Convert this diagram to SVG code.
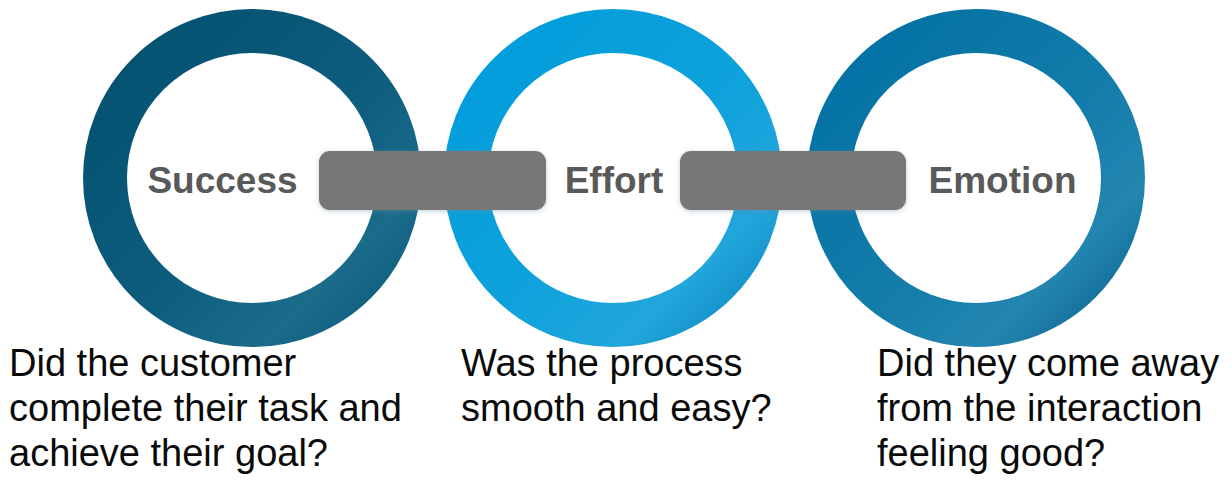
<svg xmlns="http://www.w3.org/2000/svg" width="1232" height="483" viewBox="0 0 1232 483">
  <defs>
    <linearGradient id="g1" x1="0" y1="0" x2="1" y2="1">
      <stop offset="0" stop-color="#03506f"/>
      <stop offset="0.55" stop-color="#0d5d7e"/>
      <stop offset="0.8" stop-color="#1b6b8b"/>
      <stop offset="1" stop-color="#0c5a7c"/>
    </linearGradient>
    <linearGradient id="g2" x1="0" y1="0" x2="1" y2="1">
      <stop offset="0" stop-color="#009cdb"/>
      <stop offset="0.55" stop-color="#0fa2dc"/>
      <stop offset="0.8" stop-color="#22a6dc"/>
      <stop offset="1" stop-color="#0e86c0"/>
    </linearGradient>
    <linearGradient id="g3" x1="0" y1="0" x2="1" y2="1">
      <stop offset="0" stop-color="#0070a3"/>
      <stop offset="0.55" stop-color="#137caa"/>
      <stop offset="0.8" stop-color="#2386b0"/>
      <stop offset="1" stop-color="#0a628d"/>
    </linearGradient>
    <filter id="sh" x="-10%" y="-30%" width="120%" height="160%">
      <feGaussianBlur in="SourceAlpha" stdDeviation="2.5"/>
      <feOffset dx="0" dy="1" result="b"/>
      <feFlood flood-color="#6a8fa0" flood-opacity="0.45"/>
      <feComposite in2="b" operator="in"/>
      <feMerge><feMergeNode/><feMergeNode in="SourceGraphic"/></feMerge>
    </filter>
  </defs>
  <style>
    .ring { fill: none; stroke-width: 44; }
    .lbl { font-family: "Liberation Sans", Arial, sans-serif; font-weight: bold; font-size: 37px; fill: #595959; text-anchor: middle; }
    .q { font-family: "Liberation Sans", Arial, sans-serif; font-size: 38px; fill: #0a0a0a; }
    .link { fill: #777777; }
  </style>
  <rect width="1232" height="483" fill="#ffffff"/>

  <g id="node-success">
    <circle class="ring" cx="252" cy="178" r="147" stroke="url(#g1)"/>
    <text class="lbl" x="222.5" y="193">Success</text>
  </g>
  <g id="node-effort">
    <circle class="ring" cx="613" cy="178" r="147" stroke="url(#g2)"/>
    <text class="lbl" x="614" y="193">Effort</text>
  </g>
  <g id="node-emotion">
    <circle class="ring" cx="976" cy="178" r="147" stroke="url(#g3)"/>
    <text class="lbl" x="1002.5" y="193">Emotion</text>
  </g>

  <g id="connectors" filter="url(#sh)">
    <rect class="link" x="319" y="151" width="227" height="59" rx="11"/>
    <rect class="link" x="680" y="151" width="226" height="59" rx="11"/>
  </g>

  <g id="text-success">
    <text class="q" x="9" y="376">Did the customer</text>
    <text class="q" x="9" y="421">complete their task and</text>
    <text class="q" x="9" y="466">achieve their goal?</text>
  </g>
  <g id="text-effort">
    <text class="q" x="461" y="376">Was the process</text>
    <text class="q" x="461" y="421">smooth and easy?</text>
  </g>
  <g id="text-emotion">
    <text class="q" x="877" y="376">Did they come away</text>
    <text class="q" x="877" y="421">from the interaction</text>
    <text class="q" x="877" y="466">feeling good?</text>
  </g>
</svg>
